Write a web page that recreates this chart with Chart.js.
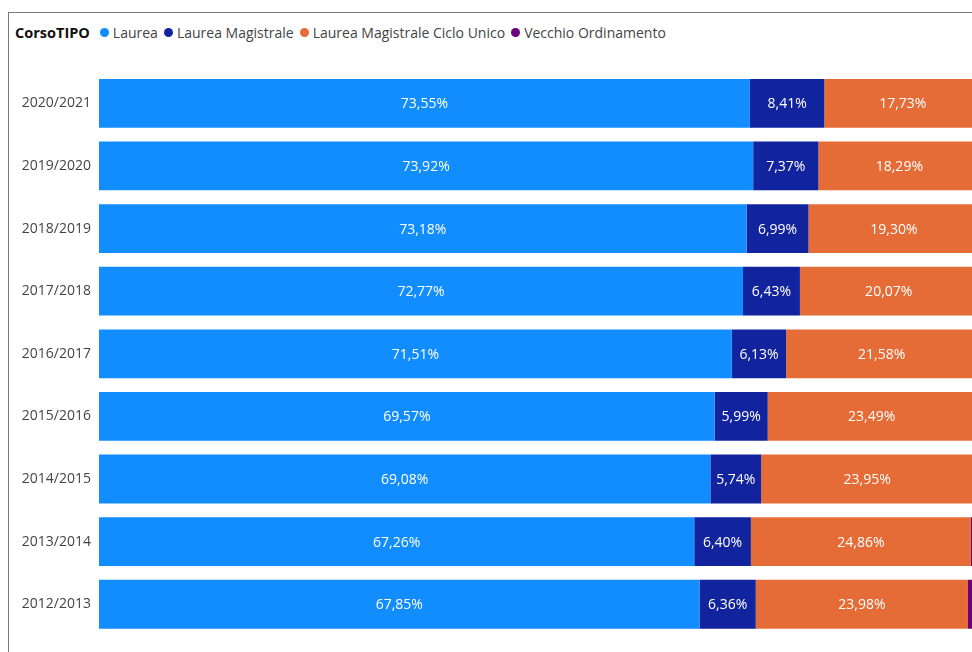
<!DOCTYPE html>
<html>
<head>
<meta charset="utf-8">
<script src="https://cdn.jsdelivr.net/npm/chart.js@4/dist/chart.umd.min.js"></script>
<style>
  html, body { margin: 0; padding: 0; background: #fff; overflow: hidden; width: 972px; height: 652px; }
  #frame { position: absolute; left: 8px; top: 12px; width: 1000px; height: 700px;
           border-left: 1.5px solid #7a7a7a; border-top: 1.5px solid #7a7a7a; }
  #legend { position: absolute; left: 15px; top: 23px; font-family: "Open Sans", sans-serif;
            font-size: 14px; color: #333; display: flex; align-items: center; white-space: nowrap; }
  #legend b { color: #111; margin-right: 10px; font-weight: 700; font-size: 14.5px; }
  #legend .item { display: flex; align-items: center; margin-right: 6px; color: #444; }
  #legend .dot { width: 9px; height: 9px; border-radius: 50%; margin-right: 4px; }
  #chart { position: absolute; left: 0; top: 0; }
</style>
</head>
<body>
<div id="frame"></div>
<div id="legend"></div>
<canvas id="chart" width="992" height="652"></canvas>
<script>
'use strict';

// anni accademici, dal piu recente
const years = ['2020/2021', '2019/2020', '2018/2019', '2017/2018', '2016/2017',
               '2015/2016', '2014/2015', '2013/2014', '2012/2013'];

const laurea      = [73.55, 73.92, 73.18, 72.77, 71.51, 69.57, 69.08, 67.26, 67.85];
const magistrale  = [8.41, 7.37, 6.99, 6.43, 6.13, 5.99, 5.74, 6.40, 6.36];
const cicloUnico  = [17.73, 18.29, 19.30, 20.07, 21.58, 23.49, 23.95, 24.86, 23.98];
const vecchio     = [0.31, 0.42, 0.53, 0.73, 0.78, 0.95, 1.23, 1.48, 1.81];

const seriesNames = ['Laurea', 'Laurea Magistrale', 'Laurea Magistrale Ciclo Unico', 'Vecchio Ordinamento'];
const seriesColors = ['#118DFF', '#12239E', '#E66C37', '#6B007B'];
const seriesData = [laurea, magistrale, cicloUnico, vecchio];

// legend (html, inline title like the original)
var legend = document.getElementById('legend');
legend.innerHTML = '<b>CorsoTIPO</b>' + seriesNames.map(function (n, i) {
  return '<span class="item"><span class="dot" style="background:' + seriesColors[i] + '"></span>' + n + '</span>';
}).join('');

// draw the value in the middle of each segment
const segmentLabels = {
  id: 'segmentLabels',
  afterDatasetsDraw: function (chart) {
    var ctx = chart.ctx;
    ctx.save();
    ctx.font = '14px "Open Sans", sans-serif';
    ctx.fillStyle = '#ffffff';
    ctx.textAlign = 'center';
    ctx.textBaseline = 'middle';
    chart.data.datasets.forEach(function (ds, di) {
      if (di == 3) return; // too thin to label
      var meta = chart.getDatasetMeta(di);
      meta.data.forEach(function (bar, i) {
        var txt = ds.data[i].toFixed(2).replace('.', ',') + '%';
        var x = (bar.x + bar.base) / 2;
        ctx.fillText(txt, x, bar.y + 1);
      });
    });
    ctx.restore();
  }
};

new Chart(document.getElementById('chart'), {
  type: 'bar',
  data: {
    labels: years,
    datasets: seriesData.map(function (d, i) {
      return {
        label: seriesNames[i],
        data: d,
        backgroundColor: seriesColors[i],
        borderWidth: 0,
        categoryPercentage: 1,
        barPercentage: 0.78
      };
    })
  },
  options: {
    indexAxis: 'y',
    responsive: false,
    animation: false,
    layout: { padding: { left: 0, right: 8, top: 72, bottom: 13 } },
    plugins: { legend: { display: false }, tooltip: { enabled: false } },
    scales: {
      x: { stacked: true, min: 0, max: 100, display: false },
      y: {
        stacked: true,
        grid: { display: false, drawTicks: false },
        border: { display: false },
        ticks: { color: '#444', padding: 8, font: { family: 'Open Sans', size: 14 } },
        afterFit: function (s) { s.width = 99; }
      }
    }
  },
  plugins: [segmentLabels]
});
</script>
</body>
</html>
